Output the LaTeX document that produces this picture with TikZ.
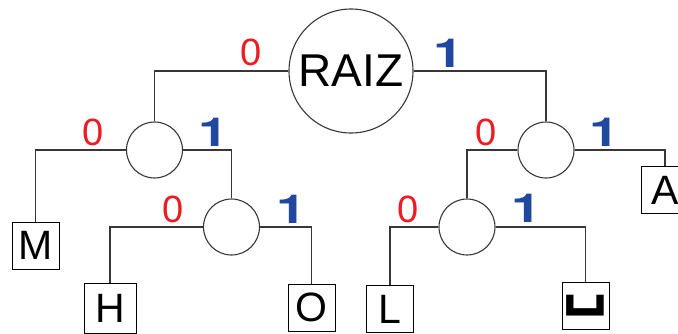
\documentclass[tikz,border=0pt]{standalone}
\usepackage{fontspec}
\setmainfont{Liberation Sans}
\newfontfamily\symfont{DejaVu Sans}
\newfontfamily\heros{TeX Gyre Heros}
\definecolor{zred}{RGB}{237,28,36}
\definecolor{zblue}{RGB}{32,72,158}
\definecolor{lgray}{RGB}{55,55,55}
\begin{document}
\begin{tikzpicture}[x=1pt,y=-1pt,
  edge/.style={draw=lgray,line width=1.1pt},
  innernode/.style={circle,draw=lgray,line width=1.1pt,minimum size=56pt,inner sep=0pt},
  rootnode/.style={circle,draw=lgray,line width=1.1pt,minimum size=124pt,inner sep=0pt,font=\fontsize{46}{50}\selectfont},
  leaf/.style={rectangle,draw=black,line width=1pt,minimum width=47pt,minimum height=47pt,inner sep=0pt,font=\fontsize{41}{45}\selectfont},
  zerolbl/.style={anchor=base,text=zred,inner sep=0pt,font=\fontsize{38}{40}\selectfont},
  onelbl/.style={anchor=base,text=zblue,inner sep=0pt,font=\heros\bfseries\fontsize{40}{42}\selectfont}]
\useasboundingbox (0,0) rectangle (678,333);
\clip (0,0) rectangle (678,333);

% internal nodes
\node[rootnode] (root) at (351,71) {RAIZ};
\node[innernode] (n0) at (154.5,150) {};
\node[innernode] (n1) at (546,150) {};
\node[innernode] (n01) at (231.5,227) {};
\node[innernode] (n10) at (467,227) {};

% leaves
\node[leaf] (M) at (35.5,245.5) {M};
\node[leaf,minimum width=52pt,minimum height=50pt] (H) at (110,308) {H};
\node[leaf] (O) at (311.5,307.5) {O};
\node[leaf] (L) at (390,309) {L};
\node[leaf] (SP) at (585.5,306) {\raisebox{-6pt}{\symfont\bfseries\fontsize{64}{66}\selectfont ␣}};
\node[leaf] (A) at (665,190) {A};

% edges
\draw[edge] (root.west) -| (n0.north);
\draw[edge] (root.east) -| (n1.north);
\draw[edge] (n0.west) -| (M.north);
\draw[edge] (n0.east) -| (n01.north);
\draw[edge] (n01.west) -| (H.north);
\draw[edge] (n01.east) -| (O.north);
\draw[edge] (n1.west) -| (n10.north);
\draw[edge] (n1.east) -| (A.north);
\draw[edge] (n10.west) -| (L.north);
\draw[edge] (n10.east) -| (SP.north);

% labels
\node[zerolbl] (l1) at (251,65) {0};
\node[onelbl] (l2) at (449,67) {\scalebox{1.35}[1]{1}};
\node[zerolbl] (l3) at (93,145) {0};
\node[onelbl] (l4) at (214,146) {\scalebox{1.35}[1]{1}};
\node[zerolbl] (l5) at (486,145) {0};
\node[onelbl] (l6) at (605,146) {\scalebox{1.35}[1]{1}};
\node[zerolbl] (l7) at (173,222) {0};
\node[onelbl] (l8) at (292,223) {\scalebox{1.35}[1]{1}};
\node[zerolbl] (l9) at (408,222) {0};
\node[onelbl] (l10) at (527,222) {\scalebox{1.35}[1]{1}};
\end{tikzpicture}
\end{document}
